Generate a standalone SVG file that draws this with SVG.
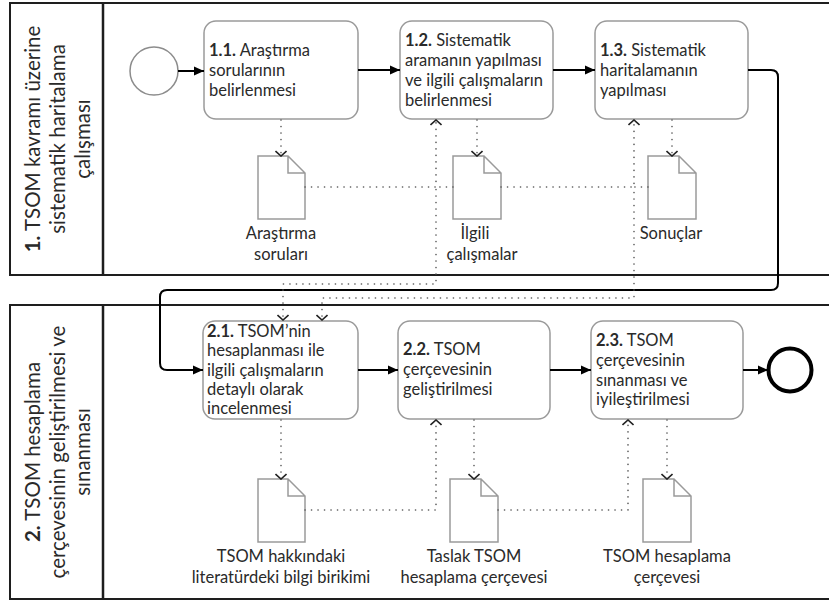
<svg xmlns="http://www.w3.org/2000/svg" width="829" height="601" viewBox="0 0 829 601">
<style>
.lane{fill:none;stroke:#1e1e1e;stroke-width:2}
.div{stroke:#1e1e1e;stroke-width:2.5}
.task{fill:#fff;stroke:#9a9a9a;stroke-width:1.5}
.doc{fill:#fff;stroke:#9a9a9a;stroke-width:1.5;stroke-linejoin:miter}
.flow{fill:none;stroke:#000;stroke-width:2}
.assoc{fill:none;stroke:#555;stroke-width:1.6;stroke-dasharray:0.1 6.4;stroke-linecap:round}
text{font-family:Lato,"Open Sans","DejaVu Sans",sans-serif;fill:#2a2a2a}
.t{font-size:16.5px}
.l{font-size:16.5px;text-anchor:middle}
.h{font-size:20.5px;text-anchor:middle}
.b{font-weight:bold}
</style>
<defs>
<marker id="arr" markerUnits="userSpaceOnUse" viewBox="0 0 10 10" refX="10" refY="5" markerWidth="10" markerHeight="10" orient="auto"><path d="M0,0.5 L10,5 L0,9.5 z" fill="#000"/></marker>
<marker id="open" markerUnits="userSpaceOnUse" viewBox="0 0 12 12" refX="11" refY="6" markerWidth="12" markerHeight="12" orient="auto"><path d="M6,0.5 L11,6 L6,11.5" fill="none" stroke="#222" stroke-width="1.6"/></marker>
</defs>
<rect width="829" height="601" fill="#fff"/>

<g id="lane1">
<rect class="lane" x="10" y="3" width="830" height="272"/>
<line class="div" x1="103" y1="3" x2="103" y2="275"/>
<text class="h" transform="translate(40,139) rotate(-90)"><tspan class="b">1.</tspan> TSOM kavramı üzerine</text>
<text class="h" transform="translate(65,139) rotate(-90)">sistematik haritalama</text>
<text class="h" transform="translate(90,139) rotate(-90)">çalışması</text>
</g>
<g id="lane2">
<rect class="lane" x="10" y="305" width="830" height="294"/>
<line class="div" x1="103" y1="305" x2="103" y2="599"/>
<text class="h" transform="translate(40,452) rotate(-90)"><tspan class="b">2.</tspan> TSOM hesaplama</text>
<text class="h" transform="translate(65,452) rotate(-90)">çerçevesinin geliştirilmesi ve</text>
<text class="h" transform="translate(90,452) rotate(-90)">sınanması</text>
</g>

<g id="start"><circle cx="154" cy="71" r="24" fill="#fff" stroke="#8c8c8c" stroke-width="1.5"/></g>
<g id="end"><circle cx="790" cy="370" r="21.5" fill="#fff" stroke="#000" stroke-width="4"/></g>

<g id="t11"><rect class="task" x="204" y="21" width="154" height="98" rx="12"/>
<text class="t"><tspan x="209" y="56"><tspan class="b">1.1.</tspan> Araştırma</tspan><tspan x="209" y="76">sorularının</tspan><tspan x="209" y="96">belirlenmesi</tspan></text></g>
<g id="t12"><rect class="task" x="400" y="21" width="153" height="98" rx="12"/>
<text class="t"><tspan x="405" y="46"><tspan class="b">1.2.</tspan> Sistematik</tspan><tspan x="405" y="66">aramanın yapılması</tspan><tspan x="405" y="86">ve ilgili çalışmaların</tspan><tspan x="405" y="106">belirlenmesi</tspan></text></g>
<g id="t13"><rect class="task" x="595" y="21" width="153" height="98" rx="12"/>
<text class="t"><tspan x="600" y="56"><tspan class="b">1.3.</tspan> Sistematik</tspan><tspan x="600" y="76">haritalamanın</tspan><tspan x="600" y="96">yapılması</tspan></text></g>

<g id="t21"><rect class="task" x="203" y="321" width="155" height="98" rx="12"/>
<text class="t"><tspan x="207" y="337"><tspan class="b">2.1.</tspan> TSOM’nin</tspan><tspan x="207" y="356">hesaplanması ile</tspan><tspan x="207" y="376">ilgili çalışmaların</tspan><tspan x="207" y="395">detaylı olarak</tspan><tspan x="207" y="414">incelenmesi</tspan></text></g>
<g id="t22"><rect class="task" x="398" y="321" width="152" height="98" rx="12"/>
<text class="t"><tspan x="403" y="355"><tspan class="b">2.2.</tspan> TSOM</tspan><tspan x="403" y="375">çerçevesinin</tspan><tspan x="403" y="395">geliştirilmesi</tspan></text></g>
<g id="t23"><rect class="task" x="591" y="321" width="152" height="98" rx="12"/>
<text class="t"><tspan x="596" y="346"><tspan class="b">2.3.</tspan> TSOM</tspan><tspan x="596" y="366">çerçevesinin</tspan><tspan x="596" y="386">sınanması ve</tspan><tspan x="596" y="405">iyileştirilmesi</tspan></text></g>

<g id="d1"><path class="doc" d="M258,156 H288 L305,173 V219 H258 Z M288,156 V173 H305"/>
<text class="l" x="281" y="239">Araştırma</text><text class="l" x="281" y="260">soruları</text></g>
<g id="d2"><path class="doc" d="M453,156 H484 L501,173 V219 H453 Z M484,156 V173 H501"/>
<text class="l" x="475" y="239">İlgili</text><text class="l" x="482" y="260">çalışmalar</text></g>
<g id="d3"><path class="doc" d="M648,156 H679 L696,173 V219 H648 Z M679,156 V173 H696"/>
<text class="l" x="671" y="239">Sonuçlar</text></g>
<g id="d4"><path class="doc" d="M258,479 H288 L305,496 V542 H258 Z M288,479 V496 H305"/>
<text class="l" x="281" y="562">TSOM hakkındaki</text><text class="l" x="281" y="583">literatürdeki bilgi birikimi</text></g>
<g id="d5"><path class="doc" d="M450,479 H481 L498,496 V542 H450 Z M481,479 V496 H498"/>
<text class="l" x="474" y="562">Taslak TSOM</text><text class="l" x="474" y="583">hesaplama çerçevesi</text></g>
<g id="d6"><path class="doc" d="M643,479 H674 L691,496 V542 H643 Z M674,479 V496 H691"/>
<text class="l" x="667" y="562">TSOM hesaplama</text><text class="l" x="667" y="583">çerçevesi</text></g>

<g id="connectors">
<path class="flow" d="M178,71 H204" marker-end="url(#arr)"/>
<path class="flow" d="M358,70 H400" marker-end="url(#arr)"/>
<path class="flow" d="M553,70 H595" marker-end="url(#arr)"/>
<path class="flow" d="M748,70 H771 Q778,70 778,77 V283 Q778,290 771,290 H167 Q160,290 160,297 V363 Q160,370 167,370 H203" marker-end="url(#arr)"/>
<path class="flow" d="M358,370 H398" marker-end="url(#arr)"/>
<path class="flow" d="M550,370 H591" marker-end="url(#arr)"/>
<path class="flow" d="M743,370 H768" marker-end="url(#arr)"/>

<path class="assoc" d="M281,120 V156" marker-end="url(#open)"/>
<path class="assoc" d="M477,120 V156" marker-end="url(#open)"/>
<path class="assoc" d="M672,120 V156" marker-end="url(#open)"/>
<path class="assoc" d="M305,187 H436 V120" marker-end="url(#open)"/>
<path class="assoc" d="M501,187 H634 V120" marker-end="url(#open)"/>
<path class="assoc" d="M453,187 H436 V284 H283 V320" marker-end="url(#open)"/>
<path class="assoc" d="M648,187 H634 V298 H322 V320" marker-end="url(#open)"/>

<path class="assoc" d="M281,420 V479" marker-end="url(#open)"/>
<path class="assoc" d="M474,420 V479" marker-end="url(#open)"/>
<path class="assoc" d="M667,420 V479" marker-end="url(#open)"/>
<path class="assoc" d="M305,510 H436 V420" marker-end="url(#open)"/>
<path class="assoc" d="M498,510 H628 V420" marker-end="url(#open)"/>
</g>
</svg>
